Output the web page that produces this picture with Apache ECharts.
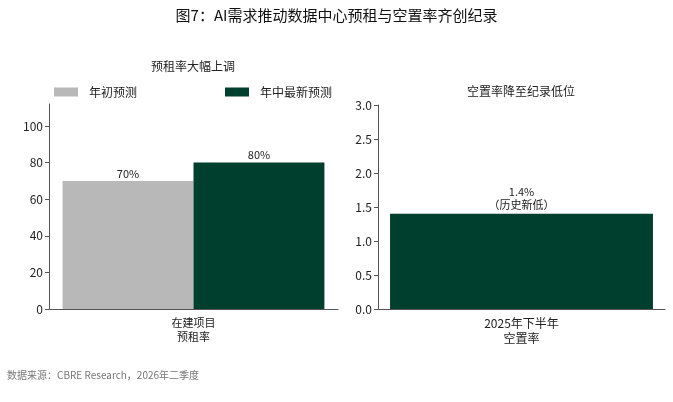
<!DOCTYPE html>
<html><head><meta charset="utf-8">
<script src="https://cdn.jsdelivr.net/npm/echarts@6/dist/echarts.min.js"></script>
<style>html,body{margin:0;padding:0;background:#fff}#c{width:673px;height:402px}</style>
</head><body><div id="c"></div>
<script>
const leftCategories = ['在建项目\n预租率'];
const leftSeriesNames = ['年初预测', '年中最新预测'];
const leftValues = [[70], [80]];
const leftTicks = [0, 20, 40, 60, 80, 100];
const rightCategories = ['2025年下半年\n空置率'];
const rightValues = [1.4];
const rightLabel = '1.4%\n（历史新低）';

const F = '"Noto Sans CJK SC","Noto Sans",sans-serif';
const axisColor = '#555';
const textColor = '#222';
const colors = ['#b8b8b8', '#003f2d'];

const chart = echarts.init(document.getElementById('c'));
chart.setOption({
  animation: false,
  textStyle: { fontFamily: F },
  title: [
    { text: '图7：AI需求推动数据中心预租与空置率齐创纪录', left: 'center', top: 8, padding: 0,
      textStyle: { fontFamily: F, fontSize: 15, fontWeight: 'normal', color: '#111' } },
    { text: '预租率大幅上调', left: 193, top: 60, padding: 0, textAlign: 'center',
      textStyle: { fontFamily: F, fontSize: 12, fontWeight: 'normal', color: textColor } },
    { text: '空置率降至纪录低位', left: 521, top: 85, padding: 0, textAlign: 'center',
      textStyle: { fontFamily: F, fontSize: 12, fontWeight: 'normal', color: textColor } },
    { text: '数据来源：CBRE Research，2026年二季度', left: 7, top: 370, padding: 0,
      textStyle: { fontFamily: F, fontSize: 10, fontWeight: 'normal', color: '#777' } }
  ],
  legend: {
    left: 54, top: 86, padding: 0, itemWidth: 24, itemHeight: 9, itemGap: 88,
    icon: 'rect',
    textStyle: { fontFamily: F, fontSize: 12, color: textColor, padding: [0, 0, 0, 6] },
    data: leftSeriesNames
  },
  grid: [
    { left: 49, right: 335, top: 104, bottom: 93 },
    { left: 378, right: 8, top: 105, bottom: 93 }
  ],
  xAxis: [
    { type: 'category', gridIndex: 0, data: leftCategories,
      axisLine: { lineStyle: { color: axisColor } },
      axisTick: { alignWithLabel: true, length: 4, lineStyle: { color: axisColor } },
      axisLabel: { fontFamily: F, fontSize: 11, color: textColor, lineHeight: 14, margin: 7 } },
    { type: 'category', gridIndex: 1, data: rightCategories,
      axisLine: { lineStyle: { color: axisColor } },
      axisTick: { alignWithLabel: true, length: 4, lineStyle: { color: axisColor } },
      axisLabel: { fontFamily: F, fontSize: 12, color: textColor, lineHeight: 15, margin: 7 } }
  ],
  yAxis: [
    { type: 'value', gridIndex: 0, min: 0, max: 112,
      splitLine: { show: false },
      axisLine: { show: true, lineStyle: { color: axisColor } },
      axisTick: { show: true, length: 4, lineStyle: { color: axisColor }, customValues: leftTicks },
      axisLabel: { fontFamily: F, fontSize: 12, color: textColor, margin: 6, customValues: leftTicks } },
    { type: 'value', gridIndex: 1, min: 0, max: 3, interval: 0.5,
      splitLine: { show: false },
      axisLine: { show: true, lineStyle: { color: axisColor } },
      axisTick: { show: true, length: 4, lineStyle: { color: axisColor } },
      axisLabel: { fontFamily: F, fontSize: 12, color: textColor, margin: 6,
        formatter: v => v.toFixed(1) } }
  ],
  series: [
    { name: leftSeriesNames[0], type: 'bar', xAxisIndex: 0, yAxisIndex: 0,
      data: leftValues[0], barWidth: '45.3%', barGap: '0%',
      itemStyle: { color: colors[0] },
      label: { show: true, position: 'top', distance: 2, formatter: '{c}%',
        fontFamily: F, fontSize: 11, color: textColor } },
    { name: leftSeriesNames[1], type: 'bar', xAxisIndex: 0, yAxisIndex: 0,
      data: leftValues[1], barWidth: '45.3%', barGap: '0%',
      itemStyle: { color: colors[1] },
      label: { show: true, position: 'top', distance: 2, formatter: '{c}%',
        fontFamily: F, fontSize: 11, color: textColor } },
    { name: '空置率', type: 'bar', xAxisIndex: 1, yAxisIndex: 1,
      data: rightValues, barWidth: '91.6%',
      itemStyle: { color: colors[1] },
      label: { show: true, position: 'top', distance: 2, formatter: rightLabel,
        fontFamily: F, fontSize: 11, color: textColor, lineHeight: 13 } }
  ]
});
</script></body></html>
